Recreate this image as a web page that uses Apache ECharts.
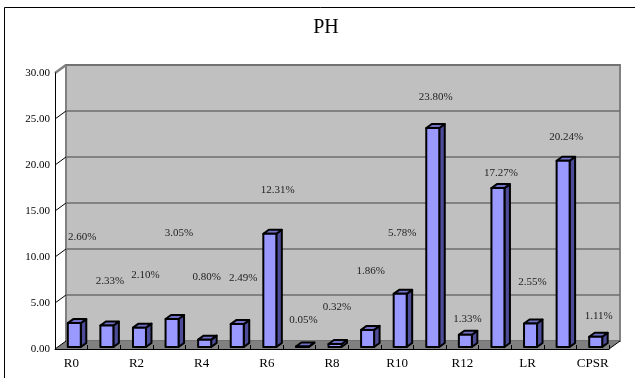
<!DOCTYPE html>
<html>
<head>
<meta charset="utf-8">
<script src="https://cdn.jsdelivr.net/npm/echarts@6/dist/echarts.min.js"></script>
<style>
  html, body { margin: 0; padding: 0; background: #fff; }
  #chart { width: 635px; height: 378px; }
</style>
</head>
<body>
<div id="chart"></div>
<script>
// PH share per category (percent)
const categories = ['R0', 'R1', 'R2', 'R3', 'R4', 'R5', 'R6', 'R7', 'R8', 'R9',
                    'R10', 'R11', 'R12', 'R13', 'LR', 'SR', 'CPSR'];
const values = [2.60, 2.33, 2.10, 3.05, 0.80, 2.49, 12.31, 0.05, 0.32, 1.86,
                5.78, 23.80, 1.33, 17.27, 2.55, 20.24, 1.11];
const yMin = 0;
const yMax = 30;
const yStep = 5;
const yTicks = [5, 10, 15, 20, 25, 30];

// label placement (pixel shift from the top of each bar's front edge)
const labelShiftX = [11, 6, 9, 10, 5, 9, 11, 4, 5, 6, 5, 6, 5, 6, 5, 6, 6];
const labelShiftY = [-88, -46, -55, -88, -65, -48, -46, -28, -39, -61, -63, -33, -18, -17, -43, -26, -23];

const SERIF = "'Liberation Serif', 'DejaVu Serif', serif";
const WALL_DEPTH = [11, -8];      // offset from the front plane to the back wall
const BAR_LEFT = -3.5;            // front face left edge relative to category centre
const BAR_WIDTH = 13;
const BAR_LIFT = -2;              // bars stand slightly behind the front edge
const BAR_DEPTH = [5.5, -4];
const BAR_FRONT = '#9999ff';
const BAR_TOP = '#7070c8';
const BAR_SIDE = '#4c4c99';

const chart = echarts.init(document.getElementById('chart'), null, { renderer: 'canvas' });

function renderBar(params, api) {
  const idx = api.value(0);
  const v = api.value(1);
  const top = api.coord([idx, v]);
  const base = api.coord([idx, 0]);
  const L = top[0] + BAR_LEFT;
  const R = L + BAR_WIDTH;
  const T = top[1] + BAR_LIFT;
  const B = base[1] + BAR_LIFT;
  const dx = BAR_DEPTH[0], dy = BAR_DEPTH[1];
  const edge = { stroke: '#000', lineWidth: 2, lineJoin: 'round' };
  return {
    type: 'group',
    children: [
      { type: 'polygon', shape: { points: [[R, T], [R + dx, T + dy], [R + dx, B + dy], [R, B]] },
        style: Object.assign({ fill: BAR_SIDE }, edge) },
      { type: 'polygon', shape: { points: [[L, T], [R, T], [R + dx, T + dy], [L + dx, T + dy]] },
        style: Object.assign({ fill: BAR_TOP }, edge) },
      { type: 'rect', shape: { x: L, y: T, width: R - L, height: B - T },
        style: Object.assign({ fill: BAR_FRONT }, edge) },
      { type: 'text',
        x: top[0] + labelShiftX[idx], y: top[1] + labelShiftY[idx],
        style: { text: v.toFixed(2) + '%', fill: '#222', font: '11px ' + SERIF,
                 align: 'center', verticalAlign: 'middle' } }
    ]
  };
}

function renderFloor(params, api) {
  const cs = params.coordSys;
  const x0 = cs.x, x1 = cs.x + cs.width;
  const y0 = api.coord([0, yMin])[1];
  const dx = WALL_DEPTH[0], dy = WALL_DEPTH[1];
  const children = [
    { type: 'polygon', shape: { points: [[x0, y0], [x1, y0], [x1 + dx, y0 + dy], [x0 + dx, y0 + dy]] },
      style: { fill: '#808080' } },
    { type: 'line', shape: { x1: x1, y1: y0, x2: x1 + dx, y2: y0 + dy },
      style: { stroke: '#000', lineWidth: 1 } },
    { type: 'line', shape: { x1: x0, y1: y0, x2: x0 + dx, y2: y0 + dy },
      style: { stroke: '#000', lineWidth: 1 } }
  ];
  yTicks.forEach(function (t) {
    const y = api.coord([0, t])[1];
    const isTop = t === yMax;
    children.push({ type: 'line', shape: { x1: x0, y1: y, x2: x0 + dx, y2: y + dy },
      style: { stroke: isTop ? '#808080' : '#000', lineWidth: isTop ? 2.5 : 1 } });
  });
  return { type: 'group', children: children };
}

const barData = values.map(function (v, i) { return [i, v]; });

chart.setOption({
  backgroundColor: '#fff',
  animation: false,
  graphic: [
    { type: 'rect', shape: { x: 4.5, y: 7.5, width: 700, height: 500 },
      style: { fill: null, stroke: '#000', lineWidth: 1 }, z: 10 },
    { type: 'text', x: 326, y: 28,
      style: { text: 'PH', fill: '#000', font: '20px ' + SERIF, align: 'center', verticalAlign: 'middle' } }
  ],
  grid: [
    { left: 55, right: 26, top: 73, bottom: 29 },
    { left: 66, right: 15, top: 65, bottom: 37, show: true,
      backgroundColor: '#c0c0c0', borderColor: '#808080', borderWidth: 2 }
  ],
  xAxis: [
    { type: 'category', gridIndex: 0, data: categories, z: 5,
      axisLine: { lineStyle: { color: '#000', width: 1 } },
      axisTick: { show: true, inside: true, length: 4, interval: 0, lineStyle: { color: '#000' } },
      axisLabel: { interval: 1, color: '#000', fontFamily: SERIF, fontSize: 13, margin: 8 },
      splitLine: { show: false } },
    { type: 'category', gridIndex: 1, data: categories, show: false }
  ],
  yAxis: [
    { type: 'value', gridIndex: 0, min: yMin, max: yMax, interval: yStep, z: 5,
      axisLine: { show: true, lineStyle: { color: '#000', width: 1 } },
      axisTick: { show: false },
      axisLabel: { color: '#000', fontFamily: SERIF, fontSize: 11, margin: 5,
                   formatter: function (v) { return v.toFixed(2); } },
      splitLine: { show: false } },
    { type: 'value', gridIndex: 1, min: yMin, max: yMax, interval: yStep,
      axisLine: { show: false }, axisTick: { show: false }, axisLabel: { show: false },
      splitLine: { show: true, lineStyle: { color: '#6e6e6e', width: 1.5 } } }
  ],
  series: [
    { type: 'custom', name: 'floor', xAxisIndex: 0, yAxisIndex: 0, z: 1,
      renderItem: renderFloor, data: [[0, 0]], silent: true },
    { type: 'custom', name: 'PH', xAxisIndex: 0, yAxisIndex: 0, z: 3,
      renderItem: renderBar, data: barData,
      encode: { x: 0, y: 1 } }
  ]
});
</script>
</body>
</html>
